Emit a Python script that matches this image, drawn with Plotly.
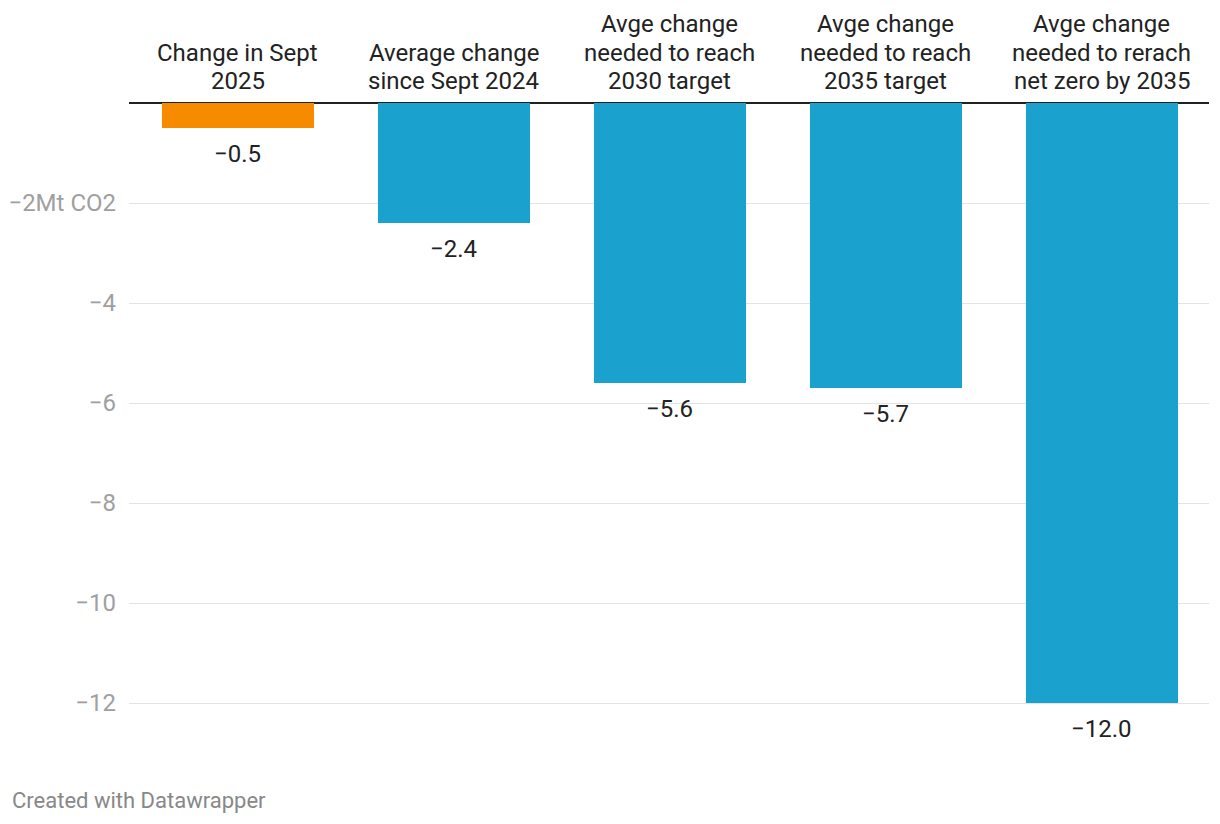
import plotly.graph_objects as go

categories = [
    "Change in Sept<br>2025",
    "Average change<br>since Sept 2024",
    "Avge change<br>needed to reach<br>2030 target",
    "Avge change<br>needed to reach<br>2035 target",
    "Avge change<br>needed to rerach<br>net zero by 2035",
]
values = [-0.5, -2.4, -5.6, -5.7, -12.0]
value_labels = ["\u22120.5", "\u22122.4", "\u22125.6", "\u22125.7", "\u221212.0"]
bar_colors = ["#f68b00", "#1aa1cd", "#1aa1cd", "#1aa1cd", "#1aa1cd"]
tick_vals = [-2, -4, -6, -8, -10, -12]
tick_text = ["\u22122Mt CO2", "\u22124", "\u22126", "\u22128", "\u221210", "\u221212"]

xpos = list(range(len(categories)))

fig = go.Figure()
fig.add_trace(go.Bar(
    x=xpos, y=values, marker=dict(color=bar_colors, line=dict(width=0)),
    width=0.704, hoverinfo="skip",
))

annotations = []
for x, v, t in zip(xpos, values, value_labels):
    annotations.append(dict(x=x, y=v, xref="x", yref="y", text=t, showarrow=False,
                            yanchor="top", yshift=-10,
                            font=dict(family="Roboto", size=24, color="#222222")))
# category labels: one annotation per line for tighter line spacing
for x, c in zip(xpos, categories):
    lines = c.split("<br>")
    for k, line in enumerate(reversed(lines)):
        annotations.append(dict(x=x, y=1, xref="x", yref="paper", text=line,
                                showarrow=False, yanchor="middle",
                                yshift=22 + 28.4 * k,
                                font=dict(family="Roboto", size=24, color="#222222")))
annotations.append(dict(x=0, y=0, xref="paper", yref="paper",
                        xanchor="left", yanchor="bottom", xshift=-119, yshift=-55,
                        text="Created with Datawrapper", showarrow=False,
                        font=dict(family="Roboto", size=22, color="#888888")))

fig.update_layout(
    width=1212, height=816,
    margin=dict(l=121, r=11, t=95, b=64, autoexpand=False),
    paper_bgcolor="white", plot_bgcolor="white",
    showlegend=False,
    font=dict(family="Roboto", size=24, color="#222222"),
    xaxis=dict(range=[-0.5046, 4.4954], showticklabels=False, showgrid=False,
               zeroline=False, showline=False, fixedrange=True, automargin=False),
    yaxis=dict(range=[-13.14, 0], tickvals=tick_vals, ticktext=tick_text,
               tickfont=dict(family="Roboto", size=24, color="#a0a0a0"),
               showgrid=True, gridcolor="#e3e3e3", gridwidth=1,
               zeroline=True, zerolinecolor="#222222", zerolinewidth=2,
               showline=False, ticks="", ticklabelstandoff=12, automargin=False),
    annotations=annotations,
)

fig.write_html("out.html")
